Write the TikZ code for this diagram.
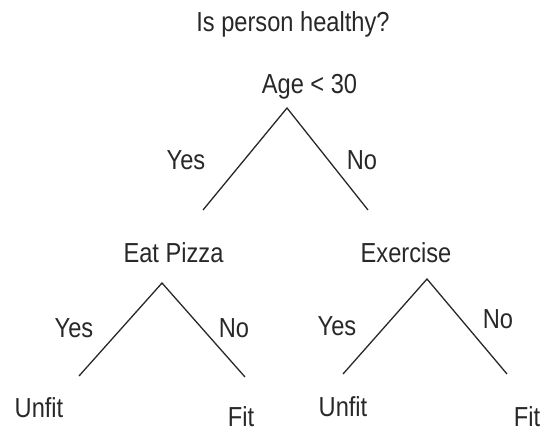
\documentclass[tikz,border=0pt]{standalone}
\usepackage{fontspec}
\setmainfont{Liberation Sans}[FakeStretch=0.86]
\definecolor{ink}{RGB}{40,40,40}
\begin{document}
\begin{tikzpicture}[x=1pt,y=-1pt,
  lbl/.style={anchor=base,inner sep=0pt,text=ink,font=\fontsize{27.5}{32}\selectfont},
  edge/.style={draw=ink,line width=1.3pt}]
\useasboundingbox (0,0) rectangle (543,430);
\node[lbl] (title) at (293,32) {Is person healthy?};
\node[lbl] (age) at (309.5,94) {Age < 30};
\coordinate (a0) at (287,108);
\coordinate (a1) at (203,210);
\coordinate (a2) at (368,210);
\node[lbl] (y1) at (186,170) {Yes};
\node[lbl] (n1) at (362,170) {No};
\node[lbl] (pizza) at (173.5,262) {Eat Pizza};
\coordinate (p0) at (162,283);
\coordinate (p1) at (79,376);
\coordinate (p2) at (245,377);
\node[lbl] (y2) at (74,337) {Yes};
\node[lbl] (n2) at (234,337) {No};
\node[lbl] (u1) at (39,417) {Unfit};
\node[lbl] (f1) at (241,426) {Fit};
\node[lbl] (ex) at (406,262) {Exercise};
\coordinate (e0) at (427,279);
\coordinate (e1) at (343,374);
\coordinate (e2) at (507,374);
\node[lbl] (y3) at (337,335) {Yes};
\node[lbl] (n3) at (498,328) {No};
\node[lbl] (u2) at (343,416) {Unfit};
\node[lbl] (f2) at (527,426) {Fit};
\draw[edge] (a1) -- (a0) -- (a2);
\draw[edge] (p1) -- (p0) -- (p2);
\draw[edge] (e1) -- (e0) -- (e2);
\end{tikzpicture}
\end{document}
